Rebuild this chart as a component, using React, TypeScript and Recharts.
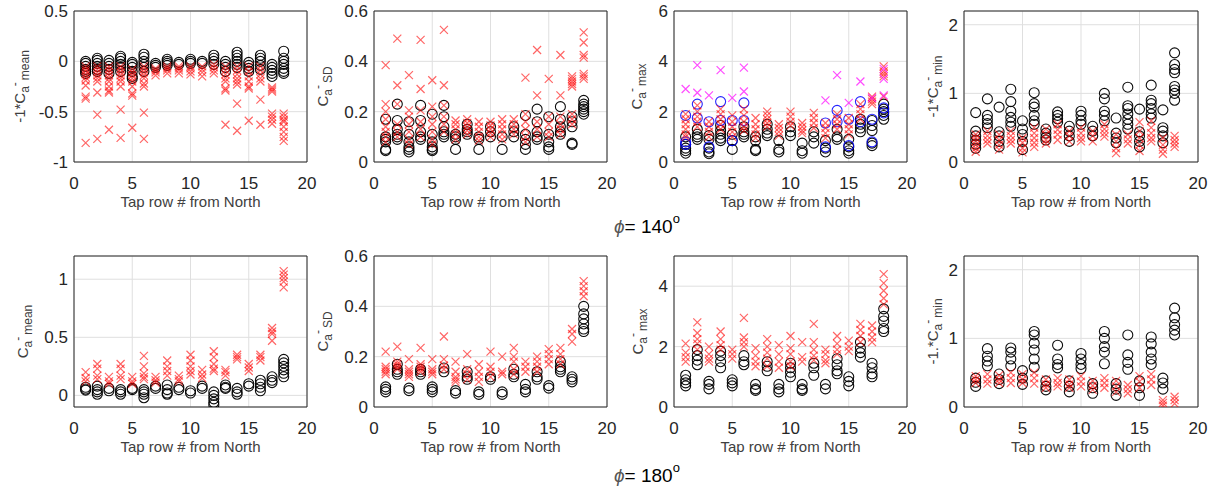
import React from 'react';
import { ScatterChart, Scatter, XAxis, YAxis, CartesianGrid, ReferenceArea } from 'recharts';

const tapRows = [1, 2, 3, 4, 5, 6, 7, 8, 9, 10, 11, 12, 13, 14, 15, 16, 17, 18];
const xTicks = [0, 5, 10, 15, 20];

// phi = 140 deg, -1*Ca mean
const mean140Circ = [
  [0, -0.02, -0.05, -0.08, -0.1, -0.12],
  [0.03, 0.01, -0.02, -0.05, -0.08, -0.1],
  [0.01, -0.02, -0.05, -0.08, -0.12],
  [0.05, 0.03, 0, -0.03, -0.06, -0.1],
  [-0.01, -0.03, -0.06, -0.1, -0.15, -0.17],
  [0.07, 0.04, 0, -0.03, -0.06, -0.1],
  [-0.02, -0.04, -0.06],
  [0.02, 0, -0.02, -0.04],
  [-0.01, -0.03],
  [0.02, 0, -0.02],
  [0, -0.02],
  [0.06, 0.03, 0, -0.03],
  [0, -0.03, -0.06, -0.1],
  [0.09, 0.06, 0.03, 0, -0.03, -0.06],
  [-0.01, -0.04, -0.07, -0.1],
  [0.06, 0.03, 0, -0.04, -0.08],
  [-0.03, -0.06, -0.09, -0.12, -0.15],
  [0.1, 0.03, 0, -0.03, -0.07, -0.1, -0.12],
];
const mean140Cross = [
  [-0.05, -0.08, -0.1, -0.13, -0.16, -0.19, -0.24, -0.35, -0.37, -0.81],
  [-0.05, -0.08, -0.11, -0.14, -0.17, -0.2, -0.31, -0.53, -0.77],
  [-0.05, -0.08, -0.11, -0.14, -0.17, -0.2, -0.25, -0.29, -0.31, -0.68],
  [-0.05, -0.08, -0.11, -0.14, -0.17, -0.2, -0.25, -0.48, -0.76],
  [-0.08, -0.11, -0.14, -0.17, -0.2, -0.25, -0.32, -0.34, -0.66],
  [-0.05, -0.08, -0.11, -0.14, -0.17, -0.22, -0.25, -0.51, -0.77],
  [-0.07, -0.09, -0.11, -0.14],
  [-0.05, -0.07, -0.09, -0.12],
  [-0.05, -0.07, -0.09, -0.12],
  [-0.05, -0.07, -0.1, -0.13],
  [-0.05, -0.08, -0.11, -0.15],
  [-0.03, -0.06, -0.09, -0.12],
  [-0.05, -0.09, -0.13, -0.17, -0.2, -0.27, -0.29, -0.63],
  [-0.05, -0.09, -0.13, -0.17, -0.2, -0.23, -0.42, -0.69],
  [-0.05, -0.1, -0.15, -0.2, -0.25, -0.27, -0.59],
  [-0.05, -0.09, -0.13, -0.17, -0.2, -0.38, -0.63],
  [-0.26, -0.28, -0.3, -0.52, -0.55, -0.58, -0.62],
  [-0.52, -0.55, -0.58, -0.6, -0.65, -0.7, -0.75, -0.79],
];

// phi = 140 deg, Ca SD
const sd140Circ = [
  [0.17, 0.1, 0.09, 0.08, 0.05, 0.045],
  [0.23, 0.165, 0.13, 0.11, 0.1, 0.09],
  [0.16, 0.11, 0.08, 0.06, 0.05, 0.04],
  [0.225, 0.165, 0.12, 0.1, 0.09],
  [0.19, 0.11, 0.08, 0.06, 0.05, 0.045],
  [0.225, 0.18, 0.14, 0.12, 0.11, 0.1],
  [0.11, 0.1, 0.09, 0.05],
  [0.15, 0.13, 0.12, 0.11],
  [0.1, 0.09, 0.05],
  [0.14, 0.12, 0.1],
  [0.1, 0.05],
  [0.14, 0.12, 0.1],
  [0.185, 0.11, 0.09, 0.07, 0.05],
  [0.21, 0.16, 0.12, 0.1, 0.09],
  [0.18, 0.11, 0.08, 0.06, 0.05],
  [0.22, 0.17, 0.14, 0.12, 0.11],
  [0.18, 0.16, 0.14, 0.075, 0.07],
  [0.245, 0.23, 0.22, 0.21, 0.2, 0.19],
];
const sd140Cross = [
  [0.385, 0.23, 0.2, 0.17, 0.14, 0.12, 0.1, 0.08],
  [0.49, 0.305, 0.23, 0.15, 0.12, 0.1],
  [0.345, 0.205, 0.18, 0.15, 0.12, 0.09, 0.07],
  [0.485, 0.29, 0.205, 0.16, 0.13, 0.1],
  [0.325, 0.22, 0.18, 0.15, 0.12, 0.09, 0.07],
  [0.525, 0.305, 0.225, 0.18, 0.15, 0.12],
  [0.165, 0.15, 0.13, 0.11, 0.09],
  [0.17, 0.155, 0.14, 0.125, 0.11],
  [0.16, 0.14, 0.12, 0.1, 0.085],
  [0.16, 0.145, 0.13, 0.115, 0.1],
  [0.17, 0.15, 0.13, 0.11, 0.09],
  [0.17, 0.15, 0.13, 0.11],
  [0.335, 0.19, 0.16, 0.13, 0.1, 0.08],
  [0.445, 0.265, 0.16, 0.13, 0.1],
  [0.33, 0.18, 0.15, 0.12, 0.1],
  [0.425, 0.265, 0.18, 0.15, 0.13, 0.11],
  [0.34, 0.33, 0.32, 0.31, 0.3, 0.19, 0.17, 0.15],
  [0.515, 0.475, 0.425, 0.415, 0.35, 0.34, 0.33],
];

// phi = 140 deg, Ca max
const max140Circ = [
  [1.0, 0.7, 0.55, 0.45, 0.35],
  [1.3, 1.1, 1.0, 0.9],
  [1.05, 0.9, 0.55, 0.4, 0.33],
  [1.45, 1.25, 1.1, 0.95, 0.85],
  [1.1, 0.85, 0.5],
  [1.4, 1.2, 1.1, 1.0],
  [1.0, 0.85, 0.5, 0.45],
  [1.5, 1.3, 1.15, 1.05],
  [0.85, 0.5, 0.4],
  [1.4, 1.2, 1.05],
  [0.75, 0.45, 0.35],
  [1.2, 1.0, 0.75],
  [0.85, 0.55, 0.4],
  [1.3, 1.0, 0.9],
  [0.9, 0.6, 0.45, 0.35],
  [1.7, 1.5, 1.35, 1.2],
  [1.65, 1.45, 1.25, 0.75, 0.65],
  [2.3, 2.1, 2.0, 1.85, 1.7],
];
const max140Blue = [
  [1.85, 0.8, 0.7],
  [2.3, 1.75],
  [1.6, 0.6],
  [2.4, 1.65],
  [1.65, 0.85],
  [2.35, 1.65],
  [], [], [], [], [], [],
  [1.55, 0.6],
  [2.05, 1.6],
  [1.7, 0.65],
  [2.4, 1.6],
  [1.7, 0.8],
  [2.15, 1.95],
];
const max140Cross = [
  [1.9, 1.7, 1.5, 1.3, 1.1, 1.0],
  [2.25, 2.0, 1.8, 1.6, 1.4],
  [1.6, 1.4, 1.2, 1.0],
  [2.1, 1.9, 1.7, 1.5, 1.3],
  [1.85, 1.6, 1.4, 1.2, 1.0],
  [2.1, 1.85, 1.6, 1.4, 1.25],
  [1.75, 1.5, 1.3, 1.1, 0.95],
  [2.0, 1.85, 1.7, 1.55, 1.4],
  [1.5, 1.35, 1.2, 1.05],
  [2.0, 1.8, 1.6, 1.45],
  [1.55, 1.4, 1.25, 1.15],
  [1.95, 1.75, 1.55, 1.35],
  [1.55, 1.35, 1.15, 0.95],
  [1.9, 1.7, 1.5, 1.3],
  [1.75, 1.5, 1.3, 1.1],
  [2.3, 2.1, 1.9, 1.7],
  [2.6, 2.5, 2.4, 2.3],
  [3.8, 3.6, 3.5, 3.4, 2.6],
];
const max140Magenta = [
  [2.9],
  [3.85, 2.75],
  [2.65],
  [3.65],
  [2.55],
  [3.75, 2.8],
  [], [], [], [], [], [],
  [2.45],
  [3.45],
  [2.35],
  [3.2],
  [2.55],
  [3.7, 3.3, 2.65],
];

// phi = 140 deg, -1*Ca min
const min140Circ = [
  [0.72, 0.45, 0.38, 0.32, 0.26, 0.2],
  [0.92, 0.68, 0.62, 0.56, 0.5],
  [0.8, 0.44, 0.38, 0.3, 0.22],
  [1.06, 0.88, 0.74, 0.65, 0.58, 0.52],
  [0.6, 0.48, 0.4, 0.3, 0.18],
  [1.01, 0.85, 0.8, 0.68, 0.6, 0.55],
  [0.48, 0.42, 0.36, 0.32],
  [0.73, 0.68, 0.63, 0.58],
  [0.52, 0.45, 0.38, 0.3],
  [0.74, 0.68, 0.6, 0.55],
  [0.52, 0.45, 0.38],
  [1.0, 0.92, 0.74, 0.68, 0.6],
  [0.64, 0.42, 0.35, 0.28],
  [1.09, 0.82, 0.78, 0.7, 0.62, 0.55, 0.48],
  [0.77, 0.44, 0.38, 0.3, 0.22],
  [1.12, 0.9, 0.85, 0.78, 0.7, 0.64],
  [0.76, 0.5, 0.45, 0.38, 0.28],
  [1.59, 1.42, 1.35, 1.3, 1.1, 1.05, 1.0, 0.9],
];
const min140Cross = [
  [0.4, 0.35, 0.3, 0.25, 0.2, 0.15],
  [0.45, 0.38, 0.32, 0.27],
  [0.4, 0.32, 0.25, 0.18],
  [0.45, 0.38, 0.32, 0.27],
  [0.35, 0.28, 0.2, 0.14],
  [0.5, 0.42, 0.35, 0.28, 0.22],
  [0.48, 0.4, 0.32, 0.27],
  [0.55, 0.47, 0.4, 0.32],
  [0.45, 0.38, 0.3],
  [0.5, 0.42, 0.35, 0.3],
  [0.45, 0.38, 0.3],
  [0.55, 0.48, 0.42, 0.37],
  [0.4, 0.3, 0.2, 0.13],
  [0.4, 0.33, 0.27],
  [0.58, 0.45, 0.35, 0.25, 0.16],
  [0.6, 0.5, 0.42, 0.35, 0.3],
  [0.35, 0.25, 0.18, 0.12],
  [0.38, 0.32, 0.27, 0.22],
];

// phi = 180 deg, Ca mean
const mean180Circ = [
  [0.07, 0.055, 0.045],
  [0.08, 0.05, 0.03, 0.01],
  [0.06, 0.04],
  [0.05, 0.03, 0.01],
  [0.06, 0.05],
  [0.05, 0.03, 0.01, -0.02],
  [0.08, 0.06],
  [0.09, 0.05, 0.02, 0.01],
  [0.07, 0.05],
  [0.04, 0.02],
  [0.08, 0.06],
  [0.03, 0, -0.03, -0.06, -0.08],
  [0.09, 0.07, 0.06],
  [0.06, 0.03, 0.01],
  [0.1, 0.08],
  [0.13, 0.1, 0.07, 0.04],
  [0.16, 0.13, 0.11],
  [0.31, 0.28, 0.25, 0.22, 0.19, 0.16],
];
const mean180Cross = [
  [0.2, 0.15, 0.12],
  [0.27, 0.23, 0.17, 0.14],
  [0.16, 0.12, 0.1],
  [0.27, 0.23, 0.17, 0.14],
  [0.16, 0.12, 0.1],
  [0.34, 0.25, 0.19, 0.16, 0.14],
  [0.16, 0.13, 0.11],
  [0.3, 0.25, 0.21, 0.17],
  [0.17, 0.14, 0.12],
  [0.35, 0.3, 0.25, 0.21, 0.18],
  [0.22, 0.18, 0.15],
  [0.38, 0.33, 0.27, 0.23, 0.21],
  [0.22, 0.2, 0.17],
  [0.35, 0.33, 0.31],
  [0.27, 0.24, 0.21],
  [0.35, 0.33, 0.3],
  [0.58, 0.55, 0.53, 0.47],
  [1.07, 1.04, 1.01, 0.98, 0.93],
];

// phi = 180 deg, Ca SD
const sd180Circ = [
  [0.08, 0.07, 0.06],
  [0.17, 0.15, 0.14, 0.13],
  [0.075, 0.065],
  [0.15, 0.14, 0.13],
  [0.08, 0.07, 0.06],
  [0.155, 0.14],
  [0.065, 0.055],
  [0.14, 0.12, 0.11],
  [0.06, 0.05],
  [0.12, 0.11],
  [0.06, 0.05],
  [0.15, 0.13, 0.12],
  [0.09, 0.07, 0.06],
  [0.14, 0.12, 0.11],
  [0.085, 0.075],
  [0.18, 0.16, 0.15, 0.14],
  [0.12, 0.11, 0.1],
  [0.4, 0.37, 0.35, 0.33, 0.31, 0.3],
];
const sd180Cross = [
  [0.22, 0.16, 0.15, 0.14, 0.13],
  [0.24, 0.18, 0.17, 0.16, 0.15],
  [0.19, 0.15, 0.14, 0.13, 0.12],
  [0.235, 0.17, 0.16, 0.15, 0.14],
  [0.19, 0.15, 0.14, 0.13],
  [0.28, 0.19, 0.165, 0.15],
  [0.18, 0.14, 0.12, 0.11, 0.1],
  [0.21, 0.15, 0.13, 0.11],
  [0.17, 0.14, 0.12, 0.1],
  [0.22, 0.16, 0.14, 0.12],
  [0.2, 0.14, 0.13],
  [0.235, 0.2, 0.18, 0.15, 0.13],
  [0.18, 0.16, 0.14],
  [0.2, 0.18, 0.16, 0.14],
  [0.23, 0.21, 0.19, 0.17],
  [0.235, 0.21, 0.19, 0.17],
  [0.31, 0.29, 0.26],
  [0.5, 0.48, 0.46, 0.44],
];

// phi = 180 deg, Ca max
const max180Circ = [
  [1.05, 0.9, 0.8, 0.7],
  [1.9, 1.7, 1.55, 1.4],
  [0.85, 0.75, 0.6],
  [1.85, 1.7, 1.5, 1.3],
  [0.9, 0.8, 0.7],
  [1.7, 1.5, 1.4],
  [0.75, 0.6, 0.55],
  [1.5, 1.35, 1.2],
  [0.75, 0.6, 0.5],
  [1.45, 1.3, 1.15, 1.0],
  [0.75, 0.6, 0.55],
  [1.45, 1.3, 1.05],
  [0.75, 0.6],
  [1.6, 1.4, 1.2, 1.1],
  [1.0, 0.85, 0.7],
  [2.15, 1.95, 1.8, 1.65],
  [1.45, 1.3, 1.1, 1.0],
  [3.25, 3.0, 2.85, 2.6, 2.5],
];
const max180Cross = [
  [2.1, 1.8, 1.65, 1.5],
  [2.8, 2.45, 2.25, 2.1, 1.9],
  [2.0, 1.75, 1.6, 1.5],
  [2.5, 2.25, 2.05, 1.9],
  [1.9, 1.75, 1.6],
  [2.95, 2.3, 2.15, 2.0],
  [1.95, 1.7, 1.5, 1.35],
  [2.25, 2.0, 1.8, 1.6, 1.35],
  [2.05, 1.75, 1.5, 1.3],
  [2.35, 1.95, 1.75, 1.5, 1.35],
  [2.15, 1.65, 1.5],
  [2.75, 2.15, 1.9, 1.7, 1.55],
  [1.9, 1.75, 1.55, 1.45],
  [2.35, 2.1, 1.9, 1.75],
  [2.2, 2.0, 1.85],
  [2.75, 2.55, 2.35, 2.15],
  [2.7, 2.5, 2.3, 2.15],
  [4.4, 4.1, 3.85, 3.6, 3.4],
];

// phi = 180 deg, -1*Ca min
const min180Circ = [
  [0.42, 0.36, 0.3],
  [0.85, 0.74, 0.67, 0.6],
  [0.48, 0.4, 0.34],
  [0.86, 0.8, 0.7, 0.6],
  [0.53, 0.42, 0.33],
  [1.1, 1.05, 0.93, 0.83, 0.7, 0.58],
  [0.38, 0.3, 0.25],
  [0.9, 0.7, 0.62, 0.57],
  [0.38, 0.3, 0.22],
  [0.78, 0.7, 0.62, 0.56],
  [0.34, 0.28, 0.2],
  [1.1, 1.0, 0.88, 0.8, 0.63],
  [0.34, 0.26, 0.17],
  [1.05, 0.76, 0.65, 0.55],
  [0.38, 0.28, 0.17],
  [1.02, 0.92, 0.8, 0.7, 0.62],
  [0.42, 0.35, 0.26],
  [1.44, 1.3, 1.2, 1.12, 1.05],
];
const min180Cross = [
  [0.45, 0.4, 0.35],
  [0.48, 0.4, 0.34],
  [0.46, 0.4, 0.35],
  [0.5, 0.42, 0.35],
  [0.48, 0.4, 0.35],
  [0.5, 0.42, 0.34],
  [0.4, 0.33, 0.28],
  [0.42, 0.35, 0.3],
  [0.4, 0.33, 0.28],
  [0.45, 0.37, 0.3],
  [0.38, 0.31, 0.25],
  [0.42, 0.35, 0.28],
  [0.38, 0.3, 0.22],
  [0.32, 0.26, 0.2],
  [0.45, 0.37, 0.28],
  [0.48, 0.4, 0.32],
  [0.1, 0.06, 0.02],
  [0.15, 0.1, 0.05],
];

const FONT = '"Liberation Sans", Arial, Helvetica, sans-serif';
const AXIS_COLOR = '#262626';

const toPoints = (lists: number[][]) =>
  lists.flatMap((vals, i) => vals.map((v) => ({ x: tapRows[i], y: v })));

const circleShape = (color: string, opacity: number) => (props: any) => (
  <circle cx={props.cx} cy={props.cy} r={5} fill="none" stroke={color} strokeOpacity={opacity} strokeWidth={1.1} />
);

const crossShape = (color: string, opacity: number) => (props: any) => {
  const { cx, cy } = props;
  const s = 4;
  return (
    <path
      d={`M${cx - s},${cy - s}L${cx + s},${cy + s}M${cx - s},${cy + s}L${cx + s},${cy - s}`}
      stroke={color}
      strokeOpacity={opacity}
      strokeWidth={1.2}
      fill="none"
    />
  );
};

type Series = { data: number[][]; shape: (p: any) => React.ReactElement };

type PanelDef = {
  left: number;
  top: number;
  w: number;
  h: number;
  domain: [number, number];
  ticks: number[];
  pre: string;
  sub: string;
  labelGap: number;
  series: Series[];
};

const black = circleShape('#000000', 0.95);
const red = crossShape('#ff0000', 0.6);

const panels: PanelDef[] = [
  { left: 74, top: 11, w: 233, h: 151, domain: [-1, 0.5], ticks: [-1, -0.5, 0, 0.5], pre: '-1*C', sub: 'mean', labelGap: 49,
    series: [{ data: mean140Circ, shape: black }, { data: mean140Cross, shape: red }] },
  { left: 374, top: 11, w: 233, h: 151, domain: [0, 0.6], ticks: [0, 0.2, 0.4, 0.6], pre: 'C', sub: 'SD', labelGap: 46,
    series: [{ data: sd140Circ, shape: black }, { data: sd140Cross, shape: red }] },
  { left: 674, top: 11, w: 233, h: 151, domain: [0, 6], ticks: [0, 2, 4, 6], pre: 'C', sub: 'max', labelGap: 32,
    series: [
      { data: max140Circ, shape: black },
      { data: max140Blue, shape: circleShape('#0000ff', 0.85) },
      { data: max140Cross, shape: red },
      { data: max140Magenta, shape: crossShape('#ff00ff', 0.7) },
    ] },
  { left: 964, top: 11, w: 234, h: 151, domain: [0, 2.2], ticks: [0, 1, 2], pre: '-1*C', sub: 'min', labelGap: 26,
    series: [{ data: min140Circ, shape: black }, { data: min140Cross, shape: red }] },
  { left: 74, top: 256, w: 233, h: 151, domain: [-0.1, 1.2], ticks: [0, 0.5, 1], pre: 'C', sub: 'mean', labelGap: 46,
    series: [{ data: mean180Circ, shape: black }, { data: mean180Cross, shape: red }] },
  { left: 374, top: 256, w: 233, h: 151, domain: [0, 0.6], ticks: [0, 0.2, 0.4, 0.6], pre: 'C', sub: 'SD', labelGap: 46,
    series: [{ data: sd180Circ, shape: black }, { data: sd180Cross, shape: red }] },
  { left: 674, top: 256, w: 233, h: 151, domain: [0, 5], ticks: [0, 2, 4], pre: 'C', sub: 'max', labelGap: 31,
    series: [{ data: max180Circ, shape: black }, { data: max180Cross, shape: red }] },
  { left: 964, top: 256, w: 234, h: 151, domain: [0, 2.2], ticks: [0, 1, 2], pre: '-1.*C', sub: 'min', labelGap: 26,
    series: [{ data: min180Circ, shape: black }, { data: min180Cross, shape: red }] },
];

const Panel = ({ p }: { p: PanelDef }) => (
  <div style={{ position: 'absolute', left: p.left - 60, top: p.top - 10 }}>
    <ScatterChart width={p.w + 70} height={p.h + 60} margin={{ top: 10, right: 10, bottom: 0, left: 0 }}>
      <CartesianGrid stroke="#dfdfdf" />
      <XAxis
        type="number"
        dataKey="x"
        domain={[0, 20]}
        ticks={xTicks}
        height={50}
        axisLine={false}
        tickLine={false}
        tickSize={6}
        tickMargin={9}
        tick={{ fontSize: 17, fill: AXIS_COLOR, fontFamily: FONT }}
        label={{ value: 'Tap row # from North', position: 'insideBottom', offset: 5, fontSize: 15, fill: '#404040', fontFamily: FONT }}
      />
      <YAxis
        type="number"
        dataKey="y"
        domain={p.domain}
        ticks={p.ticks}
        width={60}
        allowDataOverflow
        axisLine={false}
        tickLine={false}
        tickSize={4}
        tickMargin={2}
        tick={{ fontSize: 17, fill: AXIS_COLOR, fontFamily: FONT }}
      />
      {p.series.map((s, i) => (
        <Scatter key={i} data={toPoints(s.data)} shape={s.shape} isAnimationActive={false} />
      ))}
      <ReferenceArea x1={0} x2={20} y1={p.domain[0]} y2={p.domain[1]} fill="none" stroke={AXIS_COLOR} strokeWidth={1} ifOverflow="visible" />
    </ScatterChart>
  </div>
);

const YLabel = ({ p }: { p: PanelDef }) => (
  <text
    transform={`translate(${p.left - p.labelGap},${p.top + p.h / 2}) rotate(-90)`}
    textAnchor="middle"
    fontSize={15}
    fill="#404040"
    fontFamily={FONT}
  >
    <tspan>{p.pre}</tspan>
    <tspan fontSize={12} dy={4}>a</tspan>
    <tspan fontSize={12} dy={-10}>-</tspan>
    <tspan fontSize={12} dy={10} dx={2}>{p.sub}</tspan>
  </text>
);

const PhiLabel = ({ x, y, angle }: { x: number; y: number; angle: string }) => (
  <text x={x} y={y} fontSize={19} fill="#000" fontFamily={FONT}>
    <tspan fontStyle="italic" fill="#555">ϕ</tspan>
    <tspan>= {angle}</tspan>
    <tspan fontSize={13} dy={-10}>o</tspan>
  </text>
);

export default function App() {
  return (
    <div style={{ position: 'absolute', left: 0, top: 0, width: 1222, height: 492, background: '#fff', fontFamily: FONT }}>
      {panels.map((p, i) => (
        <Panel key={i} p={p} />
      ))}
      <svg width={1222} height={492} style={{ position: 'absolute', left: 0, top: 0, pointerEvents: 'none' }}>
        {panels.map((p, i) => (
          <YLabel key={i} p={p} />
        ))}
        <PhiLabel x={614} y={233} angle="140" />
        <PhiLabel x={614} y={482} angle="180" />
      </svg>
    </div>
  );
}
